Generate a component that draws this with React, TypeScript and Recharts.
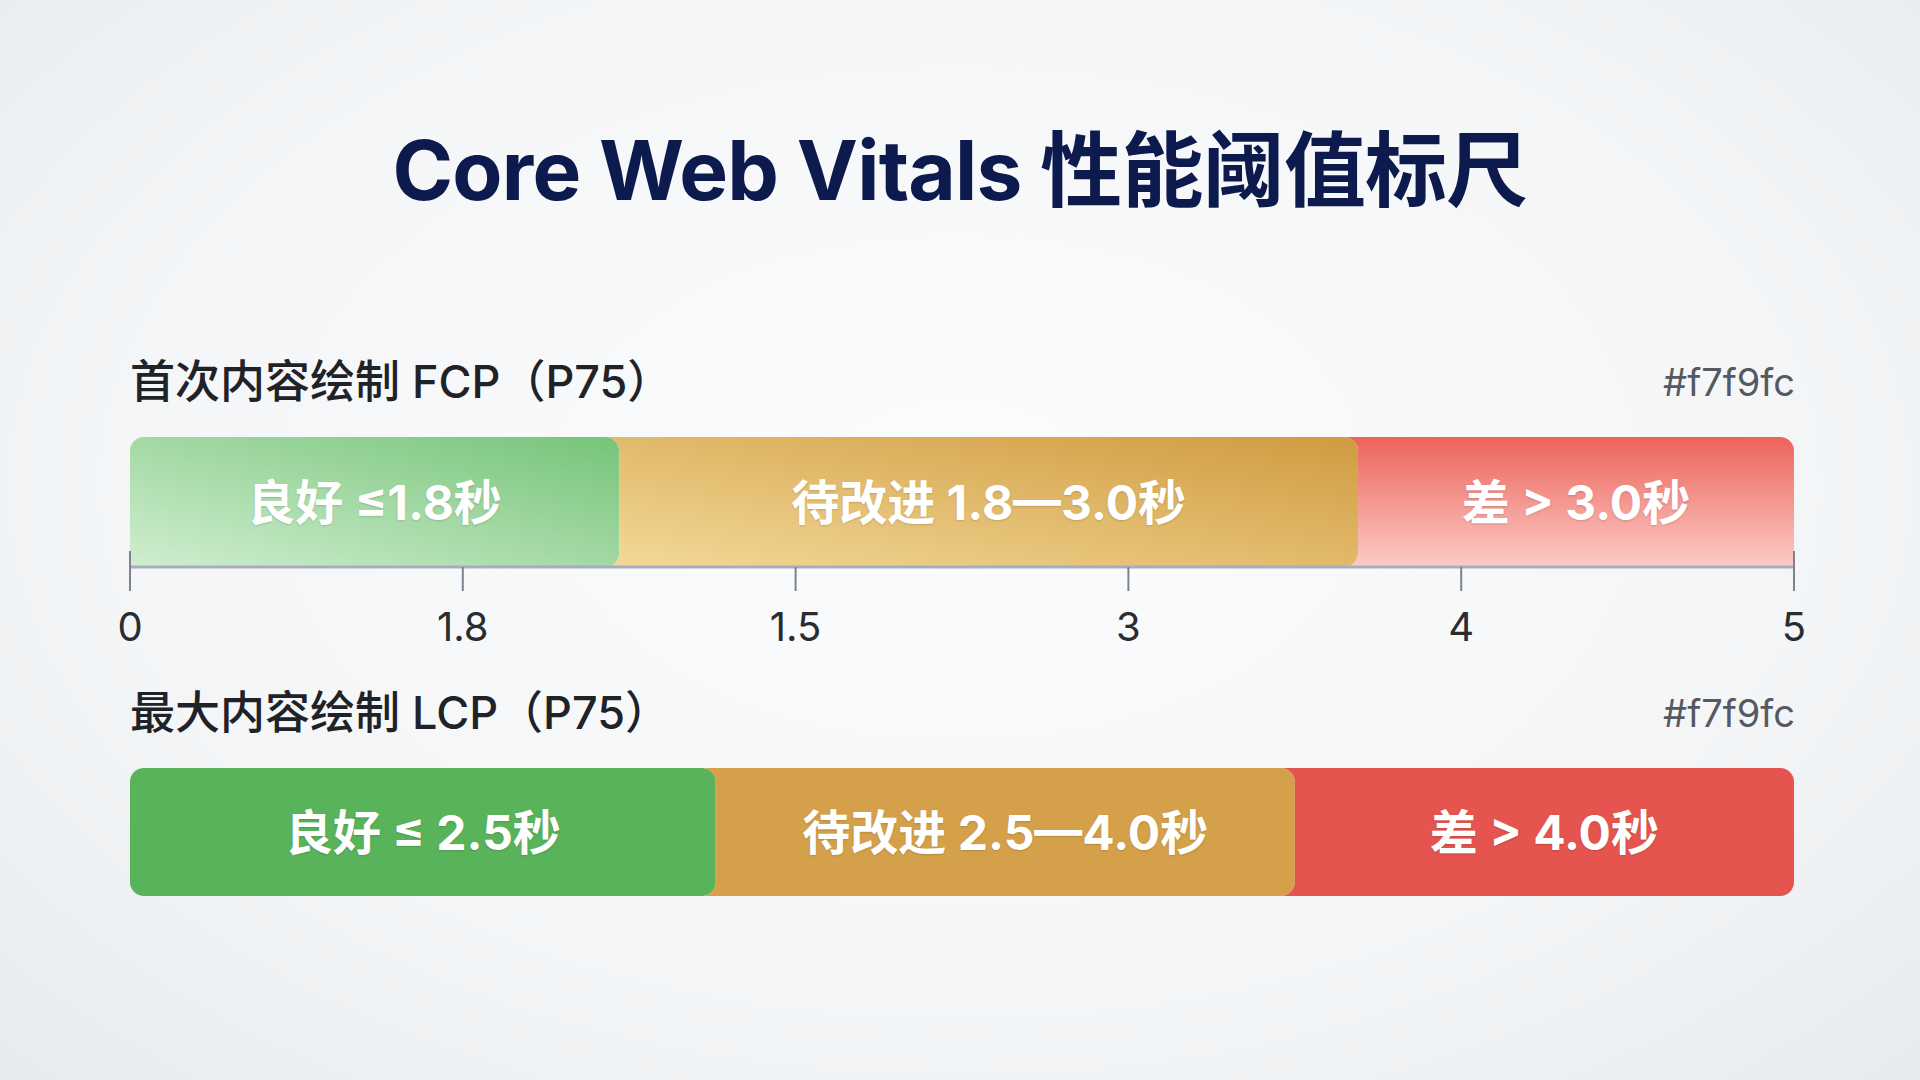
import { BarChart, Bar, XAxis, YAxis, LabelList } from "recharts";

// axis: evenly spaced ticks, labels as printed on the ruler
const tickValues = [0, 1, 2, 3, 4, 5];
const tickLabels = ["0", "1.8", "1.5", "3", "4", "5"];

const segmentKeys = ["good", "needs", "poor"];

// FCP segment widths (axis units)
const fcpValues = [1.47, 2.22, 1.31];
const fcpLabels = ["良好 ≤1.8秒", "待改进 1.8—3.0秒", "差 > 3.0秒"];

// LCP segment widths
const lcpValues = [1.76, 1.74, 1.5];
const lcpLabels = ["良好 ≤ 2.5秒", "待改进 2.5—4.0秒", "差 > 4.0秒"];

const toRow = (name: string, values: number[]) => {
  const row: Record<string, any> = { name };
  segmentKeys.forEach((k, i) => (row[k] = values[i]));
  return [row];
};

const fcpData = toRow("FCP", fcpValues);
const lcpData = toRow("LCP", lcpValues);

const FONT = "Inter, 'Noto Sans CJK SC', sans-serif";
const R = 14;

function segPath(x: number, y: number, w: number, h: number, first: boolean, last: boolean, squareBottom: boolean) {
  const r = R;
  let d = "";
  if (first) d += `M ${x} ${y + r} A ${r} ${r} 0 0 1 ${x + r} ${y} `;
  else d += `M ${x - r} ${y} `;
  d += `L ${x + w - r} ${y} A ${r} ${r} 0 0 1 ${x + w} ${y + r} `;
  if (last && squareBottom) d += `L ${x + w} ${y + h} `;
  else d += `L ${x + w} ${y + h - r} A ${r} ${r} 0 0 1 ${x + w - r} ${y + h} `;
  if (first) {
    if (squareBottom) d += `L ${x} ${y + h} `;
    else d += `L ${x + r} ${y + h} A ${r} ${r} 0 0 1 ${x} ${y + h - r} `;
    d += "Z";
  } else {
    d += `L ${x - r} ${y + h} A ${r} ${r} 0 0 0 ${x} ${y + h - r} L ${x} ${y + r} A ${r} ${r} 0 0 0 ${x - r} ${y} Z`;
  }
  return d;
}

const makeShape = (i: number, squareBottom: boolean) => (p: any) => {
  const x = Number(p.x), y = Number(p.y), w = Number(p.width), h = Number(p.height);
  return <path d={segPath(x, y, w, h, i === 0, i === segmentKeys.length - 1, squareBottom)} fill={p.fill} />;
};

const makeLabel = (text: string) => (p: any) => {
  const cx = Number(p.x) + Number(p.width) / 2;
  const cy = Number(p.y) + Number(p.height) / 2;
  return (
    <text x={cx} y={cy} textAnchor="middle" dominantBaseline="central" fill="#ffffff"
      fontSize={48} fontWeight={700} fontFamily={FONT}
      style={{ textShadow: "0 1px 2px rgba(0,0,0,0.15)" }}>
      {text}
    </text>
  );
};

const AxisTick = (p: any) => {
  const i = tickValues.indexOf(p.payload.value);
  const x = Number(p.x), y = Number(p.y);
  const edge = i === 0 || i === tickValues.length - 1;
  return (
    <g>
      {edge && <line x1={x} x2={x} y1={y - 40} y2={y - 24} stroke="#7d8290" strokeWidth={2} />}
      <text x={x} y={y + 35} textAnchor="middle" dominantBaseline="central" fill="#2a2c30"
        fontSize={40} fontFamily={FONT}>
        {tickLabels[i]}
      </text>
    </g>
  );
};

const fcpFills = ["url(#fcpGood)", "url(#fcpNeeds)", "url(#fcpPoor)"];
const lcpFills = ["#58b35b", "#d4a049", "#e5544e"];

const SectionHead = ({ top, title }: { top: number; title: string }) => (
  <>
    <div style={{ position: "absolute", left: 130, top: top - 30, height: 60, lineHeight: "60px",
      fontSize: 45, fontWeight: 500, color: "#1f2227", fontFamily: FONT, whiteSpace: "nowrap" }}>
      {title}
    </div>
    <div style={{ position: "absolute", right: 125, top: top - 30, height: 60, lineHeight: "60px",
      fontSize: 38, fontWeight: 400, color: "#555a62", fontFamily: FONT }}>
      #f7f9fc
    </div>
  </>
);

export default function App() {
  return (
    <div style={{ position: "absolute", left: 0, top: 0, width: 1920, height: 1080, overflow: "hidden",
      background: "radial-gradient(ellipse at 50% 45%, #fbfcfd 0%, #f4f6f8 60%, #e8ebed 100%)" }}>
      <div style={{ position: "absolute", left: 0, width: 1920, top: 125, height: 92, lineHeight: "92px",
        textAlign: "center", fontSize: 82, fontWeight: 700, color: "#0c1a4e", fontFamily: FONT, letterSpacing: -0.8 }}>
        Core Web Vitals 性能阈值标尺
      </div>

      <SectionHead top={382} title="首次内容绘制 FCP（P75）" />
      <div style={{ position: "absolute", left: 100, top: 420 }}>
        <BarChart width={1724} height={230} data={fcpData} layout="vertical"
          margin={{ top: 17, right: 30, bottom: 0, left: 30 }} barCategoryGap={0} barGap={0}>
          <defs>
            <linearGradient id="fcpGood" x1="0" y1="1" x2="1" y2="0">
              <stop offset="0%" stopColor="#d0eed0" />
              <stop offset="100%" stopColor="#76c479" />
            </linearGradient>
            <linearGradient id="fcpNeeds" x1="0" y1="1" x2="1" y2="0">
              <stop offset="0%" stopColor="#f3d998" />
              <stop offset="100%" stopColor="#d09b40" />
            </linearGradient>
            <linearGradient id="fcpPoor" x1="0" y1="0" x2="0" y2="1">
              <stop offset="0%" stopColor="#ec645a" />
              <stop offset="100%" stopColor="#fccbc7" />
            </linearGradient>
          </defs>
          <XAxis type="number" domain={[0, 5]} ticks={tickValues} interval={0} height={83}
            axisLine={{ stroke: "#a8adbd", strokeWidth: 3 }} tickLine={{ stroke: "#7d8290", strokeWidth: 2 }}
            tickSize={24} tickMargin={0} tick={<AxisTick />} />
          <YAxis type="category" dataKey="name" hide width={0} />
          {segmentKeys.map((k, i) => (
            <Bar key={k} dataKey={k} stackId="a" fill={fcpFills[i]} isAnimationActive={false}
              shape={makeShape(i, true)}>
              <LabelList dataKey={k} content={makeLabel(fcpLabels[i])} />
            </Bar>
          ))}
        </BarChart>
      </div>

      <SectionHead top={713} title="最大内容绘制 LCP（P75）" />
      <div style={{ position: "absolute", left: 100, top: 751 }}>
        <BarChart width={1724} height={150} data={lcpData} layout="vertical"
          margin={{ top: 17, right: 30, bottom: 5, left: 30 }} barCategoryGap={0} barGap={0}>
          <XAxis type="number" domain={[0, 5]} hide />
          <YAxis type="category" dataKey="name" hide width={0} />
          {segmentKeys.map((k, i) => (
            <Bar key={k} dataKey={k} stackId="a" fill={lcpFills[i]} isAnimationActive={false}
              shape={makeShape(i, false)}>
              <LabelList dataKey={k} content={makeLabel(lcpLabels[i])} />
            </Bar>
          ))}
        </BarChart>
      </div>
    </div>
  );
}
